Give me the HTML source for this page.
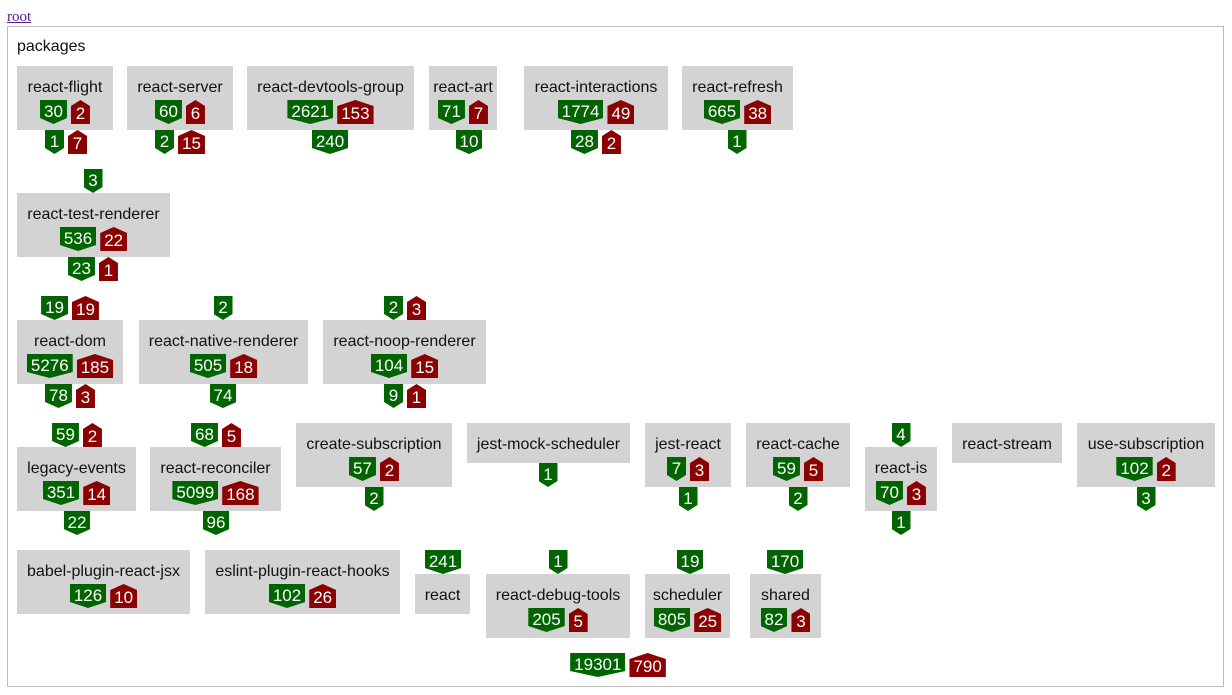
<!DOCTYPE html>
<html><head><style>
body{margin:0;width:1232px;height:695px;position:relative;font-family:"Liberation Sans",sans-serif;font-size:16px;background:#fff;overflow:hidden}
.root{position:absolute;left:7px;top:9px;font-family:"Liberation Serif",serif;font-size:15px;color:#551a8b;text-decoration:underline}
.outer{position:absolute;left:7px;top:26px;width:1217px;height:661px;border:1px solid #bbb;box-sizing:border-box}
.lbl{position:absolute;left:17px;top:38px;color:#111}
.box{position:absolute;background:#d3d3d3}
.box .t{position:absolute;left:0;right:0;top:12px;height:20px;line-height:20px;text-align:center;color:#111;white-space:nowrap}
.row{position:absolute;width:200px;display:flex;justify-content:center;gap:4px}
.box .row{left:50%;margin-left:-100px;top:34px}
.g,.r{height:24px;color:#fff;padding:0 4px;box-sizing:border-box;line-height:23px;font-size:17px;min-width:19px;text-align:center}
.g{background:#006400;clip-path:polygon(0 0,100% 0,100% 75%,50% 100%,0 75%)}
.r{background:#8b0000;padding-top:2px;clip-path:polygon(0 25%,50% 0,100% 25%,100% 100%,0 100%)}
</style></head><body>
<a class="root">root</a>
<div class="outer"></div>
<div class="lbl">packages</div>

<div class="box" style="left:17px;top:66px;width:96px;height:64px"><div class="t">react-flight</div><div class="row"><span class="g">30</span><span class="r">2</span></div></div>
<div class="row" style="left:-34px;top:130px"><span class="g">1</span><span class="r">7</span></div>
<div class="box" style="left:127px;top:66px;width:106px;height:64px"><div class="t">react-server</div><div class="row"><span class="g">60</span><span class="r">6</span></div></div>
<div class="row" style="left:80px;top:130px"><span class="g">2</span><span class="r">15</span></div>
<div class="box" style="left:247px;top:66px;width:167px;height:64px"><div class="t">react-devtools-group</div><div class="row"><span class="g">2621</span><span class="r">153</span></div></div>
<div class="row" style="left:230px;top:130px"><span class="g">240</span></div>
<div class="box" style="left:429px;top:66px;width:68px;height:64px"><div class="t">react-art</div><div class="row"><span class="g">71</span><span class="r">7</span></div></div>
<div class="row" style="left:369px;top:130px"><span class="g">10</span></div>
<div class="box" style="left:524px;top:66px;width:144px;height:64px"><div class="t">react-interactions</div><div class="row"><span class="g">1774</span><span class="r">49</span></div></div>
<div class="row" style="left:496px;top:130px"><span class="g">28</span><span class="r">2</span></div>
<div class="box" style="left:682px;top:66px;width:111px;height:64px"><div class="t">react-refresh</div><div class="row"><span class="g">665</span><span class="r">38</span></div></div>
<div class="row" style="left:637px;top:130px"><span class="g">1</span></div>

<div class="row" style="left:-7px;top:169px"><span class="g">3</span></div>
<div class="box" style="left:17px;top:193px;width:153px;height:64px"><div class="t">react-test-renderer</div><div class="row"><span class="g">536</span><span class="r">22</span></div></div>
<div class="row" style="left:-7px;top:257px"><span class="g">23</span><span class="r">1</span></div>

<div class="row" style="left:-30px;top:296px"><span class="g">19</span><span class="r">19</span></div>
<div class="row" style="left:123px;top:296px"><span class="g">2</span></div>
<div class="row" style="left:305px;top:296px"><span class="g">2</span><span class="r">3</span></div>
<div class="box" style="left:17px;top:320px;width:106px;height:64px"><div class="t">react-dom</div><div class="row"><span class="g">5276</span><span class="r">185</span></div></div>
<div class="box" style="left:139px;top:320px;width:169px;height:64px"><div class="t">react-native-renderer</div><div class="row"><span class="g">505</span><span class="r">18</span></div></div>
<div class="box" style="left:323px;top:320px;width:163px;height:64px"><div class="t">react-noop-renderer</div><div class="row"><span class="g">104</span><span class="r">15</span></div></div>
<div class="row" style="left:-30px;top:384px"><span class="g">78</span><span class="r">3</span></div>
<div class="row" style="left:123px;top:384px"><span class="g">74</span></div>
<div class="row" style="left:305px;top:384px"><span class="g">9</span><span class="r">1</span></div>

<div class="row" style="left:-23px;top:423px"><span class="g">59</span><span class="r">2</span></div>
<div class="row" style="left:116px;top:423px"><span class="g">68</span><span class="r">5</span></div>
<div class="row" style="left:801px;top:423px"><span class="g">4</span></div>
<div class="box" style="left:17px;top:447px;width:119px;height:64px"><div class="t">legacy-events</div><div class="row"><span class="g">351</span><span class="r">14</span></div></div>
<div class="box" style="left:150px;top:447px;width:131px;height:64px"><div class="t">react-reconciler</div><div class="row"><span class="g">5099</span><span class="r">168</span></div></div>
<div class="box" style="left:296px;top:423px;width:156px;height:64px"><div class="t">create-subscription</div><div class="row"><span class="g">57</span><span class="r">2</span></div></div>
<div class="box" style="left:467px;top:423px;width:163px;height:40px"><div class="t">jest-mock-scheduler</div></div>
<div class="box" style="left:645px;top:423px;width:86px;height:64px"><div class="t">jest-react</div><div class="row"><span class="g">7</span><span class="r">3</span></div></div>
<div class="box" style="left:746px;top:423px;width:104px;height:64px"><div class="t">react-cache</div><div class="row"><span class="g">59</span><span class="r">5</span></div></div>
<div class="box" style="left:865px;top:447px;width:72px;height:64px"><div class="t">react-is</div><div class="row"><span class="g">70</span><span class="r">3</span></div></div>
<div class="box" style="left:952px;top:423px;width:110px;height:40px"><div class="t">react-stream</div></div>
<div class="box" style="left:1077px;top:423px;width:138px;height:64px"><div class="t">use-subscription</div><div class="row"><span class="g">102</span><span class="r">2</span></div></div>
<div class="row" style="left:-23px;top:511px"><span class="g">22</span></div>
<div class="row" style="left:116px;top:511px"><span class="g">96</span></div>
<div class="row" style="left:274px;top:487px"><span class="g">2</span></div>
<div class="row" style="left:448px;top:463px"><span class="g">1</span></div>
<div class="row" style="left:588px;top:487px"><span class="g">1</span></div>
<div class="row" style="left:698px;top:487px"><span class="g">2</span></div>
<div class="row" style="left:801px;top:511px"><span class="g">1</span></div>
<div class="row" style="left:1046px;top:487px"><span class="g">3</span></div>

<div class="row" style="left:343px;top:550px"><span class="g">241</span></div>
<div class="row" style="left:458px;top:550px"><span class="g">1</span></div>
<div class="row" style="left:590px;top:550px"><span class="g">19</span></div>
<div class="row" style="left:685px;top:550px"><span class="g">170</span></div>
<div class="box" style="left:17px;top:550px;width:173px;height:64px"><div class="t">babel-plugin-react-jsx</div><div class="row"><span class="g">126</span><span class="r">10</span></div></div>
<div class="box" style="left:205px;top:550px;width:195px;height:64px"><div class="t">eslint-plugin-react-hooks</div><div class="row"><span class="g">102</span><span class="r">26</span></div></div>
<div class="box" style="left:415px;top:574px;width:55px;height:40px"><div class="t">react</div></div>
<div class="box" style="left:486px;top:574px;width:144px;height:64px"><div class="t">react-debug-tools</div><div class="row"><span class="g">205</span><span class="r">5</span></div></div>
<div class="box" style="left:645px;top:574px;width:85px;height:64px"><div class="t">scheduler</div><div class="row"><span class="g">805</span><span class="r">25</span></div></div>
<div class="box" style="left:750px;top:574px;width:71px;height:64px"><div class="t">shared</div><div class="row"><span class="g">82</span><span class="r">3</span></div></div>

<div class="row" style="left:518px;top:653px"><span class="g">19301</span><span class="r">790</span></div>
</body></html>
